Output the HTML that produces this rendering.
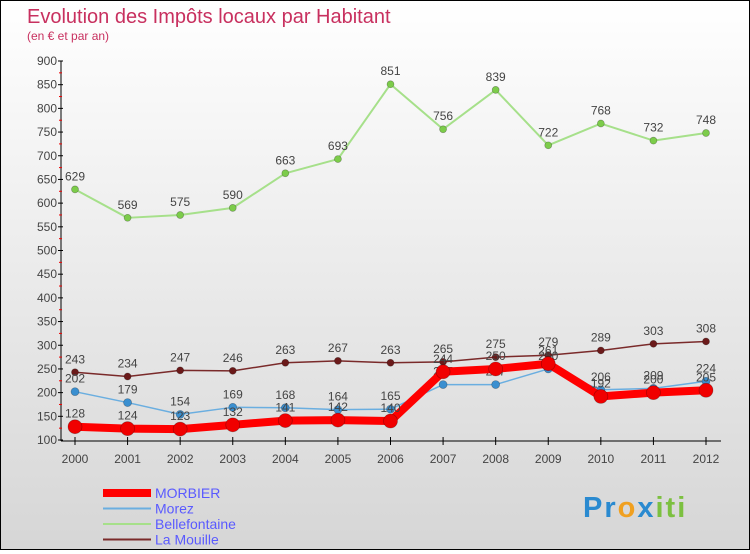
<!DOCTYPE html>
<html><head><meta charset="utf-8"><style>
html,body{margin:0;padding:0}
body{width:750px;height:550px;overflow:hidden;font-family:"Liberation Sans",sans-serif}
#wrap{position:relative;width:748px;height:548px;border:1px solid #000;background:linear-gradient(#ffffff,#d6d6d6)}
</style></head><body>
<div id="wrap">
<svg id="chart" width="748" height="548"></svg>
</div>
<script>
const years=["2000","2001","2002","2003","2004","2005","2006","2007","2008","2009","2010","2011","2012"];
const yTicks=[100,150,200,250,300,350,400,450,500,550,600,650,700,750,800,850,900];
const morbier=[128,124,123,132,141,142,140,244,250,261,192,200,205];
const morez=[202,179,154,169,168,164,165,217,217,250,206,209,224];
const bellefontaine=[629,569,575,590,663,693,851,756,839,722,768,732,748];
const laMouille=[243,234,247,246,263,267,263,265,275,279,289,303,308];
const NS="http://www.w3.org/2000/svg";
const svg=document.getElementById('chart');
function xs(i){return 74+i*(705-74)/12;}
function ys(v){return 439-(v-100)*(439-60)/800;}
function mk(t,a,p){const e=document.createElementNS(NS,t);for(const k in a)e.setAttribute(k,a[k]);(p||svg).appendChild(e);return e;}
const tt=mk('text',{x:26,y:22,'font-size':20,fill:'#c8305f'});tt.textContent="Evolution des Impôts locaux par Habitant";


const st=mk('text',{x:26,y:39,'font-size':12,fill:'#c8305f'});st.textContent="(en € et par an)";


const ax=mk('g',{});


mk('line',{x1:60,y1:60,x2:60,y2:440,stroke:'#000'},ax);
mk('line',{x1:60,y1:440,x2:720,y2:440,stroke:'#000'},ax);
yTicks.forEach((v,i)=>{const y=ys(v);mk('line',{x1:57,y1:y,x2:62,y2:y,stroke:'#000'},ax);
 const t=mk('text',{x:56,y:y+4,'font-size':12,'text-anchor':'end',fill:'#444'},ax);t.textContent=v;
 
 
 if(i<yTicks.length-1){const ym=ys(v+25);mk('line',{x1:58,y1:ym,x2:61,y2:ym,stroke:'#e00'},ax);}});
years.forEach((yr,i)=>{const x=xs(i);mk('line',{x1:x,y1:436,x2:x,y2:444,stroke:'#000'},ax);
 const t=mk('text',{x:x,y:462,'font-size':12,'text-anchor':'middle',fill:'#444'},ax);t.textContent=yr;
 
 });
function series(name,data,color,w,r,dot){const g=mk('g',{});
 
 
 mk('polyline',{points:data.map((v,i)=>xs(i)+','+ys(v)).join(' '),fill:'none',stroke:color,'stroke-width':w,'stroke-linejoin':'round'},g);
 data.forEach((v,i)=>{const c=mk('circle',{cx:xs(i),cy:ys(v),r:r,fill:dot,stroke:'rgba(0,0,0,0.3)','stroke-width':0.7},g);
  
  
  const t=mk('text',{x:xs(i),y:ys(v)-9,'font-size':12,'text-anchor':'middle',fill:'#444'},g);t.textContent=v;
  
  });}
series('bellefontaine-series',bellefontaine,'#a6e08a',2,3.5,'#7ccc4a');
series('la-mouille-series',laMouille,'#7a2a2a',1.5,3.5,'#6b1a1a');
series('morez-series',morez,'#6aaee0',1.5,4,'#3a8fd0');
series('morbier-series',morbier,'#ff0000',8,7,'#f00000');
const leg=[['MORBIER','#ff0000',8],['Morez','#6aaee0',2],['Bellefontaine','#a6e08a',2],['La Mouille','#7a2a2a',2]];
leg.forEach((l,i)=>{const g=mk('g',{});
 
 
 const y=492+i*15.5;mk('line',{x1:102,y1:y,x2:150,y2:y,stroke:l[1],'stroke-width':l[2]},g);
 const t=mk('text',{x:154,y:y+5,'font-size':14,fill:'#5a5aff'},g);t.textContent=l[0];});
const lg=mk('text',{x:582,y:516,'font-size':29,'font-weight':'bold','letter-spacing':2,fill:'#f0a020'});


lg.innerHTML='<tspan fill="#2a8ad0">Pr</tspan><tspan fill="#f0a020">o</tspan><tspan fill="#2a8ad0">x</tspan><tspan fill="#7cc040">iti</tspan>';
</script>
</body></html>
